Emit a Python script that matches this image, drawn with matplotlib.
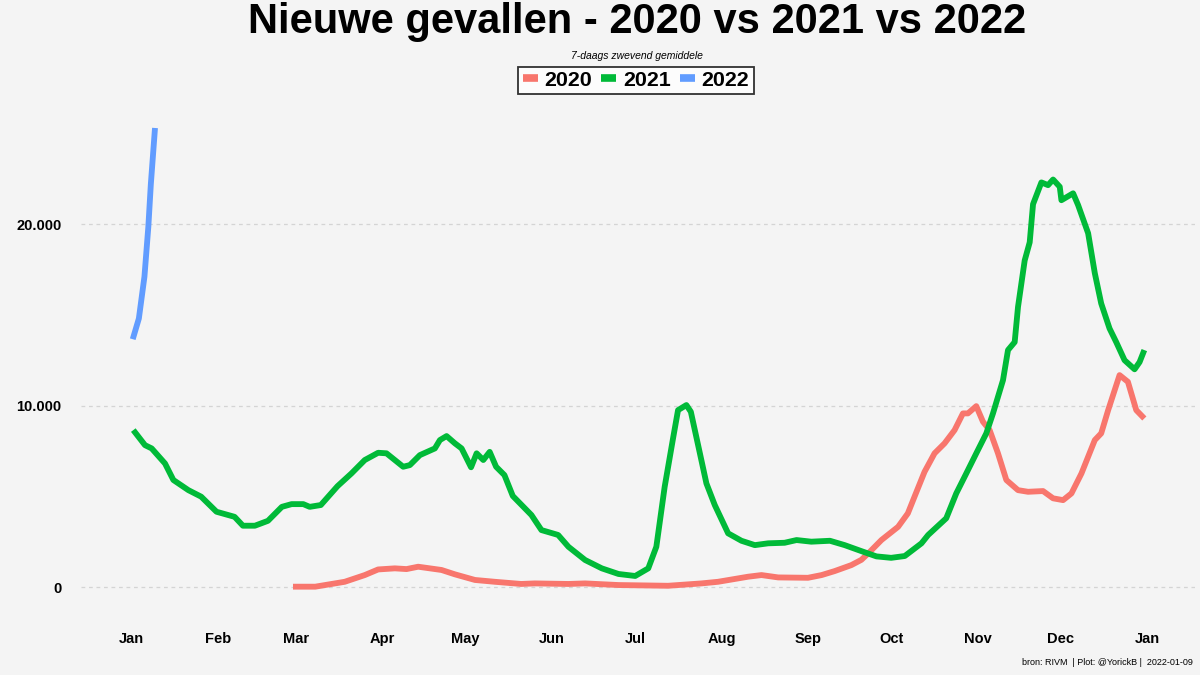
#!/usr/bin/env python3

import matplotlib
matplotlib.use("Agg")
import matplotlib.pyplot as plt
from matplotlib.ticker import FuncFormatter


# day of year / 7-day average of new cases
DAYS_2020 = [59, 67, 77.6, 84.8, 89.6, 95.6, 99.8, 104, 112.4, 117.2, 124.4,
             131.5, 141, 145.9, 158, 164, 176, 193.8, 205.8, 211.8, 222.6,
             227.4, 233.4, 244.1, 249, 253.7, 259.7, 263.3, 266, 270.5,
             276.5, 280, 282.4, 286, 289.6, 293.2, 296.8, 299.8, 301.6,
             304.6, 307, 309.4, 312.4, 315.4, 319.6, 323.2, 328.6, 332.2,
             335.8, 338.8, 342.4, 347.2, 349.5, 352, 356.1, 359.1, 362.1, 365]
CASES_2020 = [20, 20, 290, 660, 970, 1030, 990, 1120, 940, 700, 390,
              290, 170, 200, 170, 200, 110, 70, 200, 290, 570,
              660, 530, 510, 660, 880, 1210, 1500, 1890, 2590,
              3320, 4060, 4980, 6350, 7370, 7920, 8650, 9570, 9570,
              9970, 9110, 8650, 7370, 5900, 5340, 5250, 5290, 4890,
              4790, 5160, 6260, 8100, 8470, 9750, 11680, 11310, 9750, 9290]

DAYS_2021 = [1.6, 5.8, 8.2, 13, 16, 21.4, 26, 31.5, 38, 41, 45.3, 50, 55,
             58.5, 62.7, 65, 69, 75, 80, 84.8, 89.6, 92.6, 98.6, 101, 104.6,
             110, 111.8, 114.2, 117.2, 119.6, 123, 125, 127.4, 129.7, 132,
             135, 138, 144.7, 148.3, 154.3, 158, 164, 170, 176, 182, 186.7,
             189.6, 192.6, 195.6, 197.4, 200.4, 202, 205, 207.6, 210.6,
             215.4, 220.2, 225, 229.8, 235.7, 240, 245.3, 252, 257.3, 263.3,
             268.7, 274, 278.9, 284.9, 287.3, 293.8, 297.4, 301, 304.6,
             308.2, 310.6, 314.2, 316, 318.4, 319.6, 322, 323.8, 325, 328,
             330.4, 332.2, 334.6, 335.2, 339.4, 341.2, 344.8, 347.2, 349.5,
             352.5, 354.9, 357.9, 361.5, 363.3, 365]
CASES_2021 = [8650, 7820, 7640, 6810, 5900, 5340, 4980, 4150, 3870, 3380,
              3380, 3650, 4420, 4570, 4570, 4420, 4520, 5560, 6260, 7000,
              7400, 7370, 6630, 6720, 7270, 7640, 8100, 8320, 7920, 7640,
              6600, 7370, 7000, 7450, 6630, 6170, 5020, 3970, 3140, 2870,
              2220, 1490, 1030, 720, 610, 1030, 2220, 5530, 8190, 9750,
              10030, 9660, 7550, 5710, 4520, 2960, 2550, 2310, 2410, 2440,
              2590, 2500, 2550, 2310, 1980, 1690, 1610, 1710, 2410, 2870,
              3790, 5160, 6260, 7370, 8470, 9570, 11400, 13060, 13500,
              15440, 18000, 19000, 21100, 22300, 22150, 22460, 22060, 21320,
              21700, 21050, 19500, 17300, 15630, 14250, 13500, 12500, 12000,
              12400, 13060]

DAYS_2022 = [1.4, 3.6, 5.6, 7, 7.9, 9.4]
CASES_2022 = [13660, 14800, 17100, 19850, 22200, 25300]

MONTH_DAYS = [1, 32, 60, 91, 121, 152, 182, 213, 244, 274, 305, 335, 366]
MONTH_LABELS = ["Jan", "Feb", "Mar", "Apr", "May", "Jun", "Jul", "Aug",
                "Sep", "Oct", "Nov", "Dec", "Jan"]

BG = "#f4f4f4"

plt.rcParams["font.family"] = ["Liberation Sans", "DejaVu Sans"]

fig = plt.figure(figsize=(12, 6.75), dpi=100, facecolor=BG)
ax = fig.add_axes([0.0675, 0.0963, 0.9283, 0.7481], facecolor=BG)

ax.plot(DAYS_2020, CASES_2020, color="#F8766D", lw=4.2, label="2020",
        solid_capstyle="butt")
ax.plot(DAYS_2021, CASES_2021, color="#00BA38", lw=4.2, label="2021",
        solid_capstyle="butt")
ax.plot(DAYS_2022, CASES_2022, color="#619CFF", lw=4.2, label="2022",
        solid_capstyle="butt")

ax.set_xlim(-17.2, 383.2)
ax.set_ylim(-1265, 26565)

ax.set_xticks(MONTH_DAYS)
ax.set_xticklabels(MONTH_LABELS, fontweight="bold", fontsize=10.5)
ax.set_yticks([0, 10000, 20000])
ax.yaxis.set_major_formatter(
    FuncFormatter(lambda v, p: "{:,.0f}".format(v).replace(",", ".")))
for t in ax.get_yticklabels():
    t.set_fontweight("bold")
    t.set_fontsize(10.5)
ax.tick_params(axis="both", length=0, colors="black")
ax.tick_params(axis="x", pad=16)
ax.tick_params(axis="y", pad=14)

ax.grid(axis="y", color="#d4d4d4", linestyle=(0, (3, 3)), lw=0.9)
ax.set_axisbelow(True)
for s in ax.spines.values():
    s.set_visible(False)

fig.text(0.531, 0.951, "Nieuwe gevallen - 2020 vs 2021 vs 2022",
         ha="center", va="baseline", fontsize=30, fontweight="bold")
fig.text(0.531, 0.917, "7-daags zwevend gemiddele", ha="center",
         va="center", fontsize=7.5, style="italic")

leg = fig.legend(loc="center", bbox_to_anchor=(0.53, 0.881), ncol=3,
                 frameon=True, fancybox=False, handlelength=0.7,
                 handletextpad=0.3, columnspacing=0.45, borderpad=0.2,
                 borderaxespad=0,
                 prop={"weight": "bold", "size": 15.4})
leg.get_frame().set_edgecolor("black")
leg.get_frame().set_linewidth(1.3)
leg.get_frame().set_facecolor("white")
for h in leg.get_lines():
    h.set_linewidth(5.5)

fig.text(0.994, 0.019, "bron: RIVM  | Plot: @YorickB |  2022-01-09",
         ha="right", va="center", fontsize=6.5)

fig.savefig("out.png", dpi=100, facecolor=BG)
